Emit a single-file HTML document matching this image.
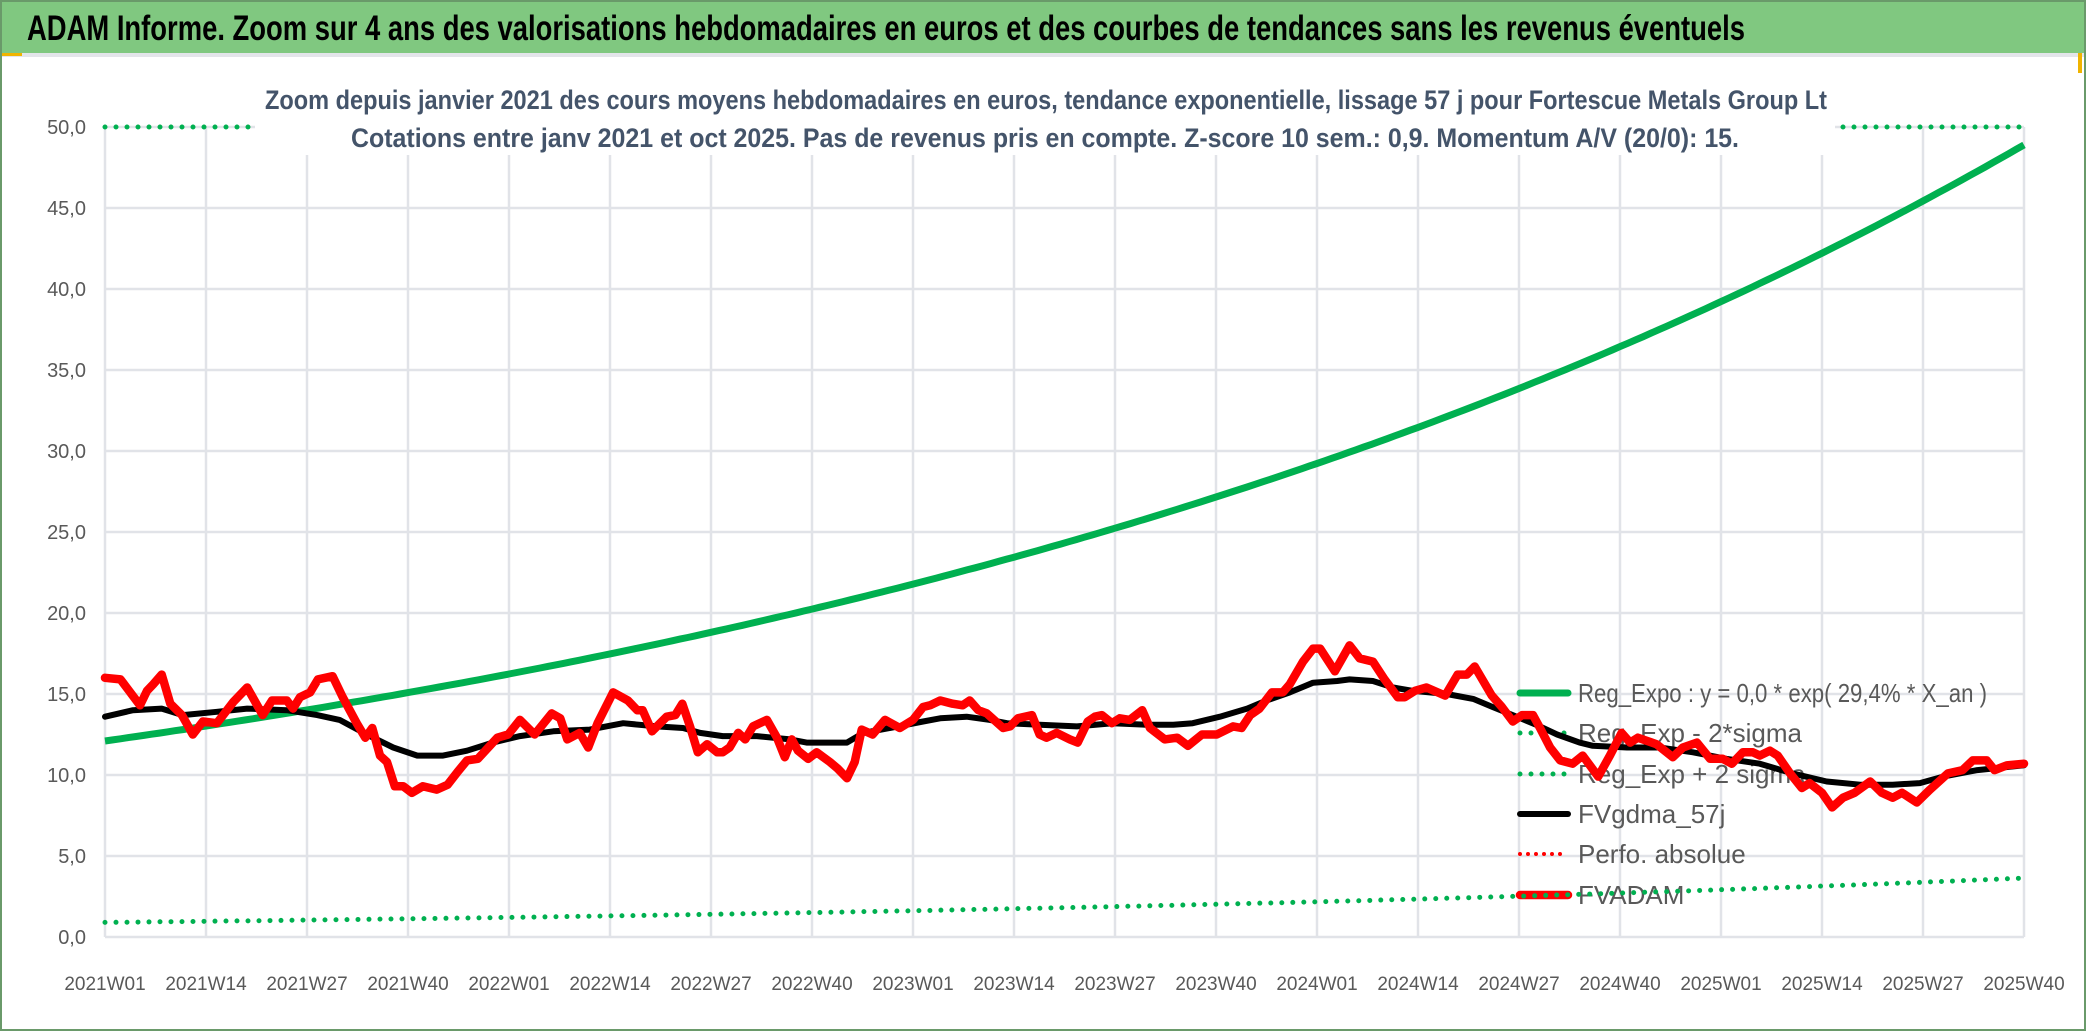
<!DOCTYPE html>
<html><head><meta charset="utf-8"><style>
body{margin:0;background:#fff;}
svg{display:block;font-family:"Liberation Sans Narrow","Liberation Sans",sans-serif;}
</style></head><body>
<svg id="chart" width="2086" height="1031" viewBox="0 0 2086 1031" xmlns="http://www.w3.org/2000/svg">
<rect x="0" y="0" width="2086" height="1031" fill="#fff"/>
<rect x="0" y="0" width="2086" height="53" fill="#80c880"/>
<text x="27" y="40" font-size="35" font-weight="bold" fill="#000" textLength="1718" lengthAdjust="spacingAndGlyphs">ADAM Informe. Zoom sur 4 ans des valorisations hebdomadaires en euros et des courbes de tendances sans les revenus éventuels</text>
<rect x="0" y="53" width="2086" height="4" fill="#e3e5ea"/>
<rect x="0" y="53" width="22" height="3" fill="#f0b400"/>
<rect x="2078" y="53" width="4" height="20" fill="#f0b400"/>
<rect x="1" y="1" width="2084" height="1029" fill="none" stroke="#6a9a6a" stroke-width="2"/>
<g id="grid"></g>
<g id="legend"></g>
<g id="series"></g>
<g id="titles"></g>
<g id="axes"></g>
</svg>
<script>
// ---- data ----
const xTickLabels = ["2021W01","2021W14","2021W27","2021W40","2022W01","2022W14","2022W27","2022W40","2023W01","2023W14","2023W27","2023W40","2024W01","2024W14","2024W27","2024W40","2025W01","2025W14","2025W27","2025W40"];
const yTicks = [0,5,10,15,20,25,30,35,40,45,50];
const totalWeeks = [247];
const expoStart = [12.1];
const expoRate = [0.294];
const lowerBandStart = [0.9];
const upperBandCap = [50];
const redWeeks = [0,2,4.5,5.4,6.2,7.3,8.4,9.9,11.3,12.6,14.4,16.5,18.3,20.3,21.5,23.4,24.2,25.1,26.4,27.4,29.3,30.6,32.4,33.5,34.4,35.4,36.3,37.3,38.4,39.5,40.9,42.7,44.1,45.4,46.6,48,50.5,51.9,53.4,55.3,57.5,58.6,59.5,61.1,62.2,63.4,65.4,67.3,68.5,69.2,70.4,72.3,73.4,74.3,75.3,76.3,77.5,78.8,79.5,80.4,81.5,82.4,83.4,85.2,86.5,87.5,88.4,89.2,90.5,91.6,93.3,94.3,95.5,96.5,97.4,98.8,100.4,102.3,104,105.3,106.2,107.5,109.1,110.4,111.3,112.4,113.5,115.6,116.5,117.5,119.3,120.3,121.2,122.5,124.2,125.2,126.5,127.4,128.3,129.6,130.6,131.9,133.5,134.5,136.4,138,139.4,141.2,143.1,145.2,146.3,147.4,148.6,150.2,151.6,152.5,154.2,155.5,156.4,158.3,160.2,161.5,163.2,164.7,166.4,167.3,168.6,170.1,172.5,174.1,175.3,176.3,178.5,179.8,181.2,182.4,183.8,184.7,186,187.3,188.9,190.2,192.2,193.7,195.2,196.3,197.3,199.7,201.8,203.1,204.9,206.6,208.2,209.4,210.8,212.1,213,214.3,215.3,216.9,218.4,219.4,221,222.3,223.7,225.2,227.2,228.7,230.1,231.3,233.2,234.9,237.2,239.1,240.4,242.2,243.2,244.8,247];
const redValues = [16.0,15.9,14.3,15.2,15.6,16.2,14.4,13.7,12.5,13.3,13.2,14.5,15.4,13.7,14.6,14.6,14.1,14.8,15.1,15.9,16.1,14.8,13.2,12.3,12.9,11.2,10.8,9.3,9.3,8.9,9.3,9.1,9.4,10.2,10.9,11.0,12.3,12.5,13.4,12.5,13.8,13.5,12.2,12.6,11.7,13.2,15.1,14.6,14.0,14.0,12.7,13.6,13.7,14.4,13.0,11.4,11.9,11.4,11.4,11.7,12.6,12.2,13.0,13.4,12.3,11.1,12.2,11.5,11.0,11.4,10.8,10.4,9.8,10.8,12.8,12.5,13.4,12.9,13.4,14.2,14.3,14.6,14.4,14.3,14.6,14.0,13.8,12.9,13.0,13.5,13.7,12.5,12.3,12.6,12.2,12.0,13.3,13.6,13.7,13.2,13.5,13.4,14.0,12.9,12.2,12.3,11.8,12.5,12.5,13.0,12.9,13.7,14.1,15.1,15.1,15.6,17.0,17.8,17.8,16.4,18.0,17.2,17.0,15.9,14.8,14.8,15.2,15.4,14.9,16.2,16.2,16.7,14.9,14.2,13.3,13.7,13.7,12.9,11.7,10.9,10.7,11.2,9.9,11.2,12.6,12.0,12.3,11.9,11.1,11.7,12.0,11.0,11.0,10.7,11.4,11.4,11.2,11.5,11.2,10.1,9.2,9.5,8.9,8.0,8.6,8.9,9.6,8.9,8.6,8.9,8.3,9.1,10.1,10.3,10.9,10.9,10.3,10.6,10.7];
const blackWeeks = [0,3.6,7.3,10,14.4,18.3,23.4,27.3,30.2,33.7,37.1,40.2,43.5,46.6,49.9,53.4,57.7,62.4,66.7,71,74.4,76.6,79.5,83.9,88.2,90.3,95.5,97.6,101,105.3,107.5,110.9,113.9,116.1,120.3,125.1,129.7,134.1,137.5,140,143.5,147,149.5,152.5,155.5,158.6,160.2,163.2,165.8,168.3,172.7,176.1,178.6,181.2,184.7,186.9,189.8,191.5,195.9,200.1,204.4,208.7,213,217.2,221.6,225.9,230.1,233.6,236.6,241,247];
const blackValues = [13.6,14.0,14.1,13.7,13.9,14.1,14.0,13.7,13.4,12.5,11.7,11.2,11.2,11.5,12.0,12.4,12.7,12.8,13.2,13.0,12.9,12.6,12.4,12.4,12.2,12.0,12.0,12.6,12.9,13.3,13.5,13.6,13.4,13.2,13.1,13.0,13.2,13.1,13.1,13.2,13.6,14.1,14.6,15.1,15.7,15.8,15.9,15.8,15.4,15.2,15.0,14.7,14.2,13.7,13.0,12.5,12.0,11.8,11.7,11.7,11.4,11.0,10.7,10.1,9.6,9.4,9.4,9.5,9.9,10.3,10.6];
const legendLabels = ["Reg_Expo : y = 0,0 * exp( 29,4% *  X_an )","Reg_Exp - 2*sigma","Reg_Exp + 2 sigma","FVgdma_57j","Perfo. absolue","FVADAM"];

// ---- axes ----
const NS="http://www.w3.org/2000/svg";
const X0=105,X1=2024,Y0=937,Y50=127;
function xs(w){return X0+(X1-X0)*w/totalWeeks[0];}
function ys(v){return Y0-(Y0-Y50)*v/50;}
function mk(tag,attrs,parent){const e=document.createElementNS(NS,tag);for(const k in attrs)e.setAttribute(k,attrs[k]);parent.appendChild(e);return e;}
const grid=document.getElementById('grid'),axes=document.getElementById('axes'),series=document.getElementById('series'),legend=document.getElementById('legend'),titles=document.getElementById('titles');

yTicks.forEach(v=>{
  const l=mk('line',{x1:X0,x2:X1,y1:ys(v),y2:ys(v),stroke:'#e1e3e8','stroke-width':2.5},grid);
  
  
  const t=mk('text',{x:86,y:ys(v)+7,'text-anchor':'end','font-size':20,fill:'#595959'},axes);
  t.textContent=v.toFixed(1).replace('.',',');
  
  
});
xTickLabels.forEach((lab,i)=>{
  const w=i*13;
  const l=mk('line',{x1:xs(w),x2:xs(w),y1:Y50,y2:Y0,stroke:'#e1e3e8','stroke-width':2.5},grid);
  
  
  const t=mk('text',{x:xs(w),y:990,'text-anchor':'middle','font-size':19,fill:'#595959'},axes);
  t.textContent=lab;
  
  
});

// ---- series ----
function expoPath(start){let d='';for(let w=0;w<=totalWeeks[0];w++){const v=start*Math.exp(expoRate[0]*w/52);d+=(w?'L':'M')+xs(w).toFixed(1)+','+ys(v).toFixed(1);}return d;}
const upper=mk('line',{x1:X0,x2:X1,y1:ys(upperBandCap[0]),y2:ys(upperBandCap[0]),stroke:'#00b050','stroke-width':5,'stroke-linecap':'round','stroke-dasharray':'0 11'},series);


const lower=mk('path',{d:expoPath(lowerBandStart[0]),fill:'none',stroke:'#00b050','stroke-width':5,'stroke-linecap':'round','stroke-dasharray':'0 11'},series);


const expo=mk('path',{d:expoPath(expoStart[0]),fill:'none',stroke:'#00b050','stroke-width':7,'stroke-linejoin':'round'},series);


function linePath(ws,vs){return ws.map((w,i)=>(i?'L':'M')+xs(w).toFixed(1)+','+ys(vs[i]).toFixed(1)).join('');}
const blk=mk('path',{d:linePath(blackWeeks,blackValues),fill:'none',stroke:'#000','stroke-width':6,'stroke-linejoin':'round','stroke-linecap':'round'},series);


const red=mk('path',{d:linePath(redWeeks,redValues),fill:'none',stroke:'#ff0000','stroke-width':8.5,'stroke-linejoin':'round','stroke-linecap':'round'},series);



// ---- titles ----
const tb=mk('rect',{x:255,y:75,width:1580,height:80,fill:'#fff'},titles);


const t1=mk('text',{x:265,y:109,'font-size':27,'font-weight':'bold',fill:'#44546a',textLength:1562,lengthAdjust:'spacingAndGlyphs'},titles);
t1.textContent='Zoom depuis janvier 2021 des cours moyens hebdomadaires en euros, tendance exponentielle, lissage 57 j pour Fortescue Metals Group Lt';


const t2=mk('text',{x:351,y:147,'font-size':27,'font-weight':'bold',fill:'#44546a',textLength:1388,lengthAdjust:'spacingAndGlyphs'},titles);
t2.textContent='Cotations entre janv 2021 et oct 2025. Pas de revenus pris en compte. Z-score 10 sem.: 0,9. Momentum A/V (20/0): 15.';



// ---- legend ----
const legY=[693,733,774,814,854,895];
const legStyles=[{s:'#00b050',w:7,d:''},{s:'#00b050',w:5,d:'0 11'},{s:'#00b050',w:5,d:'0 11'},{s:'#000',w:6,d:''},{s:'#ff0000',w:4,d:'0 8'},{s:'#ff0000',w:8.5,d:''}];
const legLen=[409,0,0,0,0,0];
legendLabels.forEach((lab,i)=>{
  const st=legStyles[i];
  const attrs={x1:1520,x2:1568,y1:legY[i],y2:legY[i],stroke:st.s,'stroke-width':st.w,'stroke-linecap':'round'};
  if(st.d)attrs['stroke-dasharray']=st.d;
  const l=mk('line',attrs,legend);
  
  
  const ta={x:1578,y:legY[i]+9,'font-size':26,fill:'#595959'};
  if(legLen[i]){ta.textLength=legLen[i];ta.lengthAdjust='spacingAndGlyphs';}
  const t=mk('text',ta,legend);
  t.textContent=lab;
  
  
});
</script>
</body></html>
